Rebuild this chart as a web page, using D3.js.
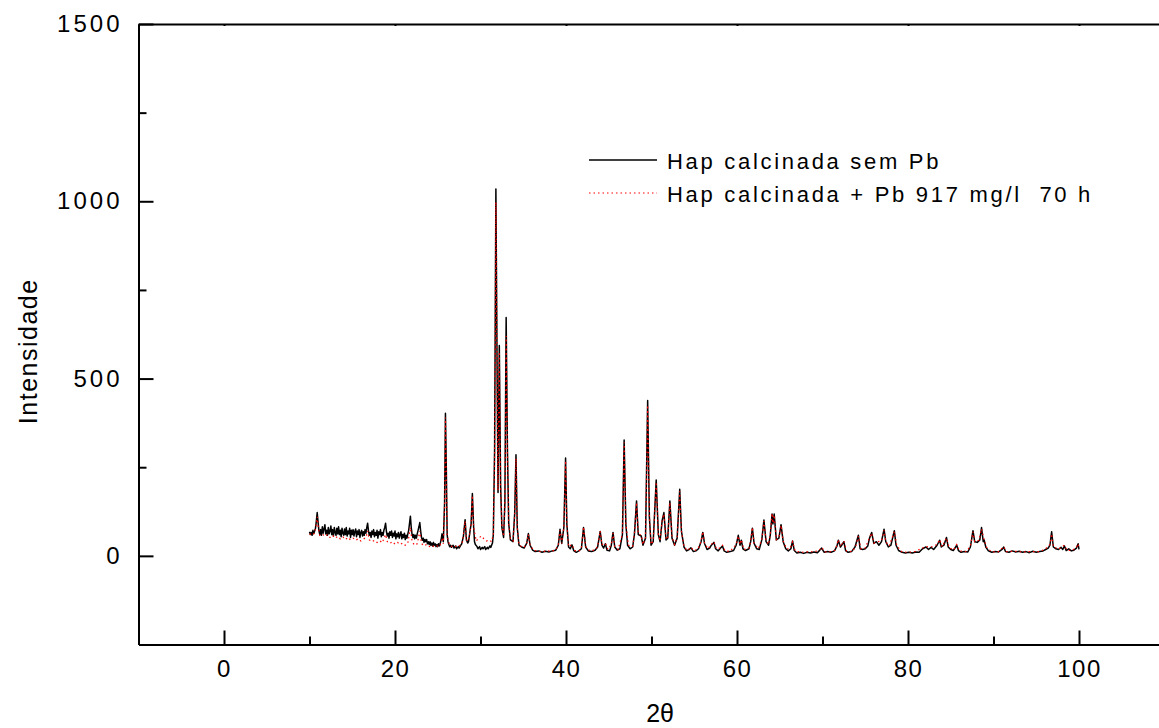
<!DOCTYPE html>
<html>
<head>
<meta charset="utf-8">
<script src="https://cdn.jsdelivr.net/npm/d3@7/dist/d3.min.js"></script>
<style>
  html, body { margin: 0; padding: 0; background: #fff; }
  svg { display: block; }
  text { font-family: Arial, "Liberation Sans", sans-serif; fill: #000; }
</style>
</head>
<body>
<svg id="chart" width="1159" height="728"></svg>
<script>
// X-ray diffraction patterns: [2θ (degrees), intensity (counts)]
const hapSemPb = [
  [10.0,68],[10.1,60],[10.2,66],[10.3,58],[10.4,72],[10.5,63],[10.6,70],[10.7,78],[10.8,98],[10.9,122],
  [11.0,96],[11.1,72],[11.2,60],[11.3,74],[11.4,58],[11.5,82],[11.6,64],[11.7,76],[11.8,88],[11.9,62],
  [12.0,72],[12.1,58],[12.2,80],[12.3,62],[12.4,70],[12.5,84],[12.6,60],[12.7,74],[12.8,56],[12.9,80],
  [13.0,66],[13.1,58],[13.2,78],[13.3,62],[13.4,82],[13.5,60],[13.6,72],[13.7,54],[13.8,78],[13.9,64],
  [14.0,58],[14.1,76],[14.2,60],[14.3,80],[14.4,56],[14.5,70],[14.6,62],[14.7,78],[14.8,52],[14.9,72],
  [15.0,60],[15.1,74],[15.2,56],[15.3,68],[15.4,76],[15.5,54],[15.6,70],[15.7,60],[15.8,74],[15.9,52],
  [16.0,66],[16.1,72],[16.2,56],[16.3,68],[16.4,58],[16.5,74],[16.6,64],[16.7,80],[16.8,92],[16.9,70],
  [17.0,58],[17.1,66],[17.2,52],[17.3,70],[17.4,60],[17.5,74],[17.6,54],[17.7,66],[17.8,58],[17.9,72],
  [18.0,50],[18.1,68],[18.2,60],[18.3,74],[18.4,54],[18.5,66],[18.6,58],[18.7,72],[18.8,80],[18.9,92],
  [19.0,68],[19.1,56],[19.2,64],[19.3,50],[19.4,68],[19.5,58],[19.6,70],[19.7,52],[19.8,64],[19.9,56],
  [20.0,70],[20.1,48],[20.2,62],[20.3,54],[20.4,66],[20.5,50],[20.6,60],[20.7,68],[20.8,48],[20.9,60],
  [21.0,52],[21.1,64],[21.2,46],[21.3,58],[21.4,50],[21.5,62],[21.6,72],[21.7,92],[21.8,112],[21.9,80],
  [22.0,60],[22.1,52],[22.2,60],[22.3,48],[22.4,58],[22.5,50],[22.6,62],[22.7,72],[22.8,82],[22.9,94],
  [23.0,70],[23.1,52],[23.2,44],[23.3,50],[23.4,38],[23.5,46],[23.6,40],[23.7,46],[23.8,34],[23.9,40],
  [24.0,32],[24.1,40],[24.2,30],[24.3,36],[24.4,28],[24.5,38],[24.6,30],[24.7,34],[24.8,26],[24.9,32],
  [25.0,26],[25.1,34],[25.2,28],[25.3,36],[25.4,46],[25.5,62],[25.65,40],[25.8,150],[25.9,402],[26.0,250],
  [26.1,60],[26.2,40],[26.3,32],[26.4,26],[26.5,30],[26.6,24],[26.8,30],[26.9,22],[27.1,28],[27.2,20],
  [27.4,26],[27.5,22],[27.7,30],[27.8,34],[28.0,55],[28.2,102],[28.35,45],[28.5,36],[28.6,40],[28.9,90],
  [29.05,176],[29.2,80],[29.3,40],[29.4,32],[29.6,26],[29.7,20],[29.9,26],[30.0,18],[30.2,24],[30.3,20],
  [30.5,26],[30.6,18],[30.8,24],[30.9,20],[31.1,28],[31.2,24],[31.4,36],[31.5,60],[31.65,300],[31.8,1035],
  [31.95,500],[32.05,179],[32.2,593],[32.35,200],[32.5,80],[32.7,52],[32.85,150],[33.0,672],[33.15,300],[33.3,90],
  [33.5,45],[33.8,40],[34.0,120],[34.15,285],[34.3,80],[34.5,30],[34.8,25],[35.1,22],[35.4,35],[35.6,63],
  [35.8,30],[36.1,16],[36.4,12],[36.8,14],[37.2,10],[37.6,13],[38.0,11],[38.4,14],[38.8,16],[39.1,30],
  [39.3,75],[39.5,35],[39.75,80],[39.95,276],[40.1,90],[40.3,25],[40.5,20],[40.7,31],[40.9,15],[41.2,10],
  [41.5,14],[41.8,20],[42.05,80],[42.3,25],[42.6,14],[43.0,12],[43.4,16],[43.7,25],[44.0,69],[44.2,30],
  [44.4,22],[44.6,34],[44.8,16],[45.1,14],[45.3,30],[45.5,66],[45.7,25],[46.0,16],[46.3,20],[46.6,60],
  [46.8,327],[47.0,90],[47.2,30],[47.5,20],[47.8,25],[48.0,60],[48.25,155],[48.45,60],[48.8,56],[49.0,30],
  [49.3,50],[49.55,438],[49.75,110],[49.95,30],[50.2,40],[50.55,214],[50.8,60],[51.0,40],[51.25,100],[51.45,122],
  [51.7,45],[51.9,50],[52.15,155],[52.4,50],[52.7,30],[53.0,50],[53.3,188],[53.5,70],[53.8,25],[54.1,14],
  [54.4,18],[54.6,23],[54.9,12],[55.2,14],[55.5,20],[55.8,40],[56.0,66],[56.2,35],[56.5,18],[56.8,22],
  [57.0,30],[57.3,38],[57.5,20],[57.8,14],[58.0,20],[58.3,28],[58.5,14],[58.8,10],[59.2,12],[59.6,15],
  [59.9,30],[60.15,58],[60.35,30],[60.5,44],[60.7,20],[61.0,15],[61.4,20],[61.6,40],[61.8,78],[62.0,35],
  [62.3,20],[62.6,18],[62.9,45],[63.15,101],[63.4,40],[63.7,30],[63.9,60],[64.1,118],[64.2,90],[64.35,118],
  [64.6,45],[64.9,50],[65.15,88],[65.4,40],[65.7,20],[66.0,14],[66.3,20],[66.5,42],[66.7,15],[67.0,8],
  [67.4,10],[67.8,7],[68.2,10],[68.6,8],[69.0,11],[69.4,9],[69.6,14],[69.9,22],[70.2,10],[70.6,12],
  [71.0,10],[71.4,14],[71.7,28],[71.85,44],[72.1,25],[72.3,32],[72.5,40],[72.7,15],[73.0,10],[73.4,12],
  [73.8,25],[74.2,58],[74.4,20],[74.7,18],[75.0,20],[75.3,28],[75.5,50],[75.75,66],[76.0,35],[76.3,40],
  [76.6,30],[76.9,40],[77.2,75],[77.4,40],[77.7,25],[78.0,30],[78.4,71],[78.6,30],[78.9,15],[79.3,10],
  [79.7,8],[80.1,10],[80.5,8],[80.9,11],[81.3,10],[81.7,20],[82.1,25],[82.4,18],[82.7,24],[83.0,18],
  [83.4,30],[83.7,44],[83.9,25],[84.2,30],[84.5,52],[84.7,25],[85.0,18],[85.3,15],[85.7,30],[85.9,15],
  [86.2,10],[86.6,12],[87.0,11],[87.3,25],[87.6,71],[87.8,40],[88.1,38],[88.4,45],[88.6,80],[88.8,40],
  [88.9,45],[89.1,25],[89.4,14],[89.8,10],[90.2,12],[90.6,11],[91.0,18],[91.2,25],[91.4,12],[91.8,10],
  [92.2,14],[92.6,11],[93.0,13],[93.4,10],[93.8,12],[94.2,9],[94.6,13],[95.0,10],[95.4,12],[95.8,14],
  [96.1,18],[96.4,22],[96.6,30],[96.8,68],[97.0,25],[97.3,20],[97.6,18],[97.9,24],[98.1,18],[98.3,28],
  [98.5,15],[98.8,20],[99.1,14],[99.4,16],[99.7,22],[99.9,34],[100.0,18]
];

const hapComPb = [
  [10.0,62],[10.3,58],[10.6,64],[10.8,90],[10.9,110],[11.0,85],[11.2,58],[11.5,62],[11.8,55],[12.1,60],
  [12.4,52],[12.7,58],[13.0,50],[13.3,55],[13.6,48],[13.9,54],[14.2,46],[14.5,52],[14.8,45],[15.1,50],
  [15.4,44],[15.7,48],[16.0,42],[16.3,47],[16.6,52],[16.8,70],[17.0,45],[17.3,40],[17.6,44],[17.9,38],
  [18.2,43],[18.5,37],[18.9,60],[19.1,40],[19.4,35],[19.7,40],[20.0,33],[20.3,38],[20.6,32],[20.9,36],
  [21.2,30],[21.5,36],[21.8,80],[22.0,40],[22.3,30],[22.6,34],[22.9,70],[23.1,35],[23.4,28],[23.7,32],
  [24.0,26],[24.3,30],[24.6,25],[24.9,28],[25.2,26],[25.5,45],[25.65,34],[25.8,140],[25.9,390],[26.0,240],
  [26.1,55],[26.4,30],[26.7,26],[27.0,28],[27.3,24],[27.6,30],[27.9,40],[28.2,98],[28.35,45],[28.6,42],
  [28.9,88],[29.05,170],[29.2,80],[29.5,42],[29.8,50],[30.1,56],[30.4,48],[30.7,42],[31.0,45],[31.3,40],
  [31.5,62],[31.65,290],[31.8,998],[31.95,480],[32.05,185],[32.2,575],[32.35,200],[32.5,85],[32.7,55],[32.85,140],
  [33.0,620],[33.15,290],[33.3,90],[33.5,48],[33.8,42],[34.0,115],[34.15,275],[34.3,80],[34.5,32],[34.8,26],
  [35.1,24],[35.4,36],[35.6,60],[35.8,30],[36.2,16],[36.7,13],[37.2,12],[37.8,14],[38.3,13],[38.8,17],
  [39.1,32],[39.3,72],[39.5,35],[39.75,80],[39.95,268],[40.1,88],[40.3,26],[40.7,32],[41.0,15],[41.5,13],
  [41.8,22],[42.05,82],[42.3,26],[42.8,14],[43.4,17],[43.7,26],[44.0,70],[44.2,32],[44.6,36],[44.9,18],
  [45.3,32],[45.5,64],[45.7,26],[46.1,18],[46.6,62],[46.8,320],[47.0,92],[47.3,30],[47.8,27],[48.0,62],
  [48.25,150],[48.45,62],[48.8,58],[49.0,32],[49.3,52],[49.55,425],[49.75,112],[49.95,32],[50.2,42],[50.55,208],
  [50.8,62],[51.0,42],[51.25,102],[51.45,118],[51.7,46],[51.9,52],[52.15,150],[52.4,52],[52.7,32],[53.0,52],
  [53.3,182],[53.5,70],[53.8,26],[54.2,15],[54.6,24],[55.0,14],[55.5,22],[55.8,42],[56.0,68],[56.2,36],
  [56.6,20],[57.0,32],[57.3,40],[57.6,20],[58.0,22],[58.3,30],[58.6,14],[59.2,13],[59.9,32],[60.15,56],
  [60.35,32],[60.5,46],[60.8,18],[61.4,22],[61.6,42],[61.8,80],[62.0,36],[62.5,20],[62.9,47],[63.15,98],
  [63.4,42],[63.7,32],[63.9,62],[64.1,120],[64.2,92],[64.35,115],[64.6,46],[64.9,52],[65.15,86],[65.4,42],
  [65.8,20],[66.2,20],[66.5,40],[66.8,14],[67.5,10],[68.2,11],[69.0,12],[69.6,15],[69.9,24],[70.3,11],
  [71.0,12],[71.5,16],[71.85,46],[72.1,26],[72.5,42],[72.8,14],[73.5,12],[73.9,28],[74.2,56],[74.5,20],
  [75.0,22],[75.5,52],[75.75,64],[76.0,36],[76.4,40],[76.9,42],[77.2,72],[77.4,40],[77.8,28],[78.4,68],
  [78.7,28],[79.3,11],[80.0,10],[80.8,12],[81.7,22],[82.1,26],[82.7,25],[83.4,32],[83.7,46],[84.0,26],
  [84.5,50],[84.8,24],[85.3,16],[85.7,32],[86.0,14],[86.8,12],[87.3,27],[87.6,68],[87.8,40],[88.3,44],
  [88.6,76],[88.9,46],[89.2,24],[89.8,11],[90.6,12],[91.2,26],[91.5,12],[92.4,13],[93.4,11],[94.4,12],
  [95.4,12],[96.1,20],[96.6,32],[96.8,62],[97.0,26],[97.6,19],[98.3,30],[98.6,16],[99.2,15],[99.7,24],
  [99.9,34],[100.0,20]
];

const seriesLabels = ["Hap calcinada sem Pb", "Hap calcinada + Pb 917 mg/l  70 h"];
const xTicks = [0, 20, 40, 60, 80, 100];
const xMinorTicks = [10, 30, 50, 70, 90];
const yTicks = [0, 500, 1000, 1500];
const yMinorTicks = [250, 750, 1250];
const xTitle = "2θ";
const yTitle = "Intensidade";

const svg = d3.select("#chart");

const x = d3.scaleLinear().domain([-10, 110]).range([138.5, 1164.5]);
const y = d3.scaleLinear().domain([-250, 1500]).range([644.5, 24]);

// data traces
const line = d3.line().x(d => x(d[0])).y(d => y(d[1]));

svg.append("path")
  .datum(hapSemPb)
  .attr("fill", "none")
  .attr("stroke", "#000")
  .attr("stroke-width", 1.5)
  .attr("stroke-linejoin", "round")
  .attr("d", line);

svg.append("path")
  .datum(hapComPb)
  .attr("fill", "none")
  .attr("stroke", "#ff0000")
  .attr("stroke-width", 1.2)
  .attr("stroke-dasharray", "1.5,3")
  .attr("d", line);

// axes: ticks point inward
function styleAxis(g, spacing) {
  g.attr("font-family", null).attr("font-size", null);
  g.selectAll("path.domain").attr("stroke", "#000").attr("stroke-width", 2);
  g.selectAll(".tick line").attr("stroke", "#000").attr("stroke-width", 2);
  g.selectAll(".tick text")
    .style("font-size", "24px")
    .style("letter-spacing", spacing + "px")
    .attr("fill", "#000");
}

const xAxis = svg.append("g")
  .attr("transform", `translate(0,${y(-250)})`)
  .call(d3.axisBottom(x).tickValues(xTicks).tickFormat(d3.format("d"))
    .tickSizeInner(-14).tickSizeOuter(0).tickPadding(15));
styleAxis(xAxis, 1.5);

const xMinor = svg.append("g")
  .attr("transform", `translate(0,${y(-250)})`)
  .call(d3.axisBottom(x).tickValues(xMinorTicks).tickFormat("")
    .tickSizeInner(-8).tickSizeOuter(0));
styleAxis(xMinor, 0);

const yAxis = svg.append("g")
  .attr("transform", `translate(${x(-10)},0)`)
  .call(d3.axisLeft(y).tickValues(yTicks).tickFormat(d3.format("d"))
    .tickSizeInner(-15).tickSizeOuter(0).tickPadding(16));
styleAxis(yAxis, 3);

const yMinor = svg.append("g")
  .attr("transform", `translate(${x(-10)},0)`)
  .call(d3.axisLeft(y).tickValues(yMinorTicks).tickFormat("")
    .tickSizeInner(-8).tickSizeOuter(0));
styleAxis(yMinor, 0);

const xTop = svg.append("g")
  .attr("transform", `translate(0,${y(1500)})`)
  .call(d3.axisTop(x).tickValues(xTicks).tickFormat("")
    .tickSizeInner(-2).tickSizeOuter(0));
styleAxis(xTop, 0);

// axis titles
svg.append("text")
  .attr("x", x(51))
  .attr("y", 722)
  .attr("text-anchor", "middle")
  .style("font-size", "25px")
  .text(xTitle);

svg.append("text")
  .attr("transform", `translate(37,${y(577)}) rotate(-90)`)
  .attr("text-anchor", "middle")
  .style("font-size", "25px")
  .style("letter-spacing", "1.5px")
  .text(yTitle);

// legend
const legend = svg.append("g").attr("transform", "translate(589,0)");
const legendRows = [
  { label: seriesLabels[0], y: 160, stroke: "#000", dash: null, width: 1.5 },
  { label: seriesLabels[1], y: 193, stroke: "#ff0000", dash: "1.5,3", width: 1.2 }
];
legendRows.forEach(r => {
  legend.append("line")
    .attr("x1", 0).attr("x2", 68)
    .attr("y1", r.y).attr("y2", r.y)
    .attr("stroke", r.stroke)
    .attr("stroke-width", r.width)
    .attr("stroke-dasharray", r.dash);
  legend.append("text")
    .attr("x", 78)
    .attr("y", r.y + 9)
    .style("font-size", "22px")
    .style("letter-spacing", "2.7px")
    .style("white-space", "pre")
    .attr("xml:space", "preserve")
    .text(r.label);
});
</script>
</body>
</html>
